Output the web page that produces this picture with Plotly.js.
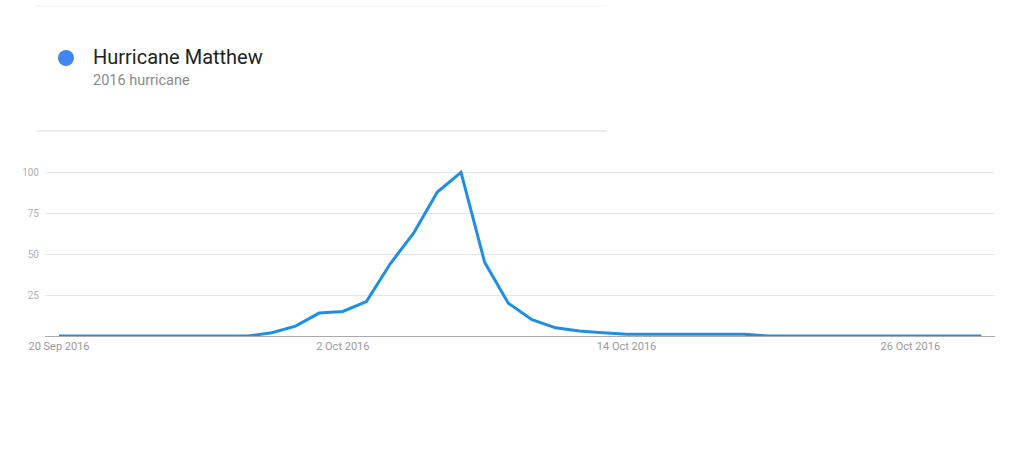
<!DOCTYPE html>
<html>
<head>
<meta charset="utf-8">
<script src="https://cdn.plot.ly/plotly-3.0.1.min.js"></script>
<style>html,body{margin:0;padding:0;background:#fff;}#chart{width:1024px;height:461px;}</style>
</head>
<body>
<div id="chart"></div>
<script>
// Daily dates 20 Sep 2016 .. 29 Oct 2016
const dates = [
 '2016-09-20','2016-09-21','2016-09-22','2016-09-23','2016-09-24','2016-09-25','2016-09-26','2016-09-27','2016-09-28','2016-09-29',
 '2016-09-30','2016-10-01','2016-10-02','2016-10-03','2016-10-04','2016-10-05','2016-10-06','2016-10-07','2016-10-08','2016-10-09',
 '2016-10-10','2016-10-11','2016-10-12','2016-10-13','2016-10-14','2016-10-15','2016-10-16','2016-10-17','2016-10-18','2016-10-19',
 '2016-10-20','2016-10-21','2016-10-22','2016-10-23','2016-10-24','2016-10-25','2016-10-26','2016-10-27','2016-10-28','2016-10-29'
];
const interest = [
 0,0,0,0,0,0,0,0,0,2,
 6,14,15,21,44,63,88,100,45,20,
 10,5,3,2,1,1,1,1,1,1,
 0,0,0,0,0,0,0,0,0,0
];
const seriesName = 'Hurricane Matthew';
const seriesDesc = '2016 hurricane';
const xTickVals = ['2016-09-20','2016-10-02','2016-10-14','2016-10-26'];
const xTickText = ['20 Sep 2016','2 Oct 2016','14 Oct 2016','26 Oct 2016'];
const yTickVals = [25,50,75,100];
const yTickText = ['25','50','75','100'];

const trace = {
  x: dates, y: interest, type: 'scatter', mode: 'lines', name: seriesName,
  line: {color: '#1f8fe5', width: 3}, hoverinfo: 'x+y'
};

const layout = {
  width: 1024, height: 461,
  margin: {l: 45, r: 29, t: 156, b: 125, pad: 0},
  paper_bgcolor: '#fff', plot_bgcolor: '#fff',
  showlegend: false,
  font: {family: 'Roboto, Arial, sans-serif'},
  xaxis: {
    type: 'date',
    range: ['2016-09-19 09:48', '2016-10-29 13:55'],
    tickvals: xTickVals, ticktext: xTickText,
    showgrid: false, zeroline: false,
    showline: true, linecolor: '#aaaaaa', linewidth: 1,
    ticks: '', tickfont: {size: 11, color: '#9a9a9a'},
    fixedrange: true
  },
  yaxis: {
    range: [0, 110],
    tickvals: yTickVals, ticktext: yTickText,
    showgrid: true, gridcolor: '#e6e6e6', gridwidth: 1,
    zeroline: false, showline: false, ticks: 'outside', ticklen: 3, tickcolor: 'rgba(0,0,0,0)',
    tickfont: {size: 10, color: '#b0b0b0'},
    fixedrange: true
  },
  shapes: [
    {type: 'line', xref: 'paper', yref: 'paper', x0: -0.0095, x1: 0.5916, y0: 1.8333, y1: 1.8333, line: {color: '#f2f2f2', width: 1}},
    {type: 'line', xref: 'paper', yref: 'paper', x0: -0.0095, x1: 0.5916, y0: 1.1389, y1: 1.1389, line: {color: '#dddddd', width: 1}},
    {type: 'circle', xref: 'paper', yref: 'paper', x0: 0.01368, x1: 0.03053, y0: 1.5, y1: 1.5889, fillcolor: '#4285f4', line: {color: '#4285f4', width: 0}}
  ],
  annotations: [
    {xref: 'paper', yref: 'paper', x: 0.0484, y: 1.55, xanchor: 'left', yanchor: 'middle', text: seriesName, showarrow: false, font: {size: 20, color: '#222222', family: 'Roboto, Arial, sans-serif'}},
    {xref: 'paper', yref: 'paper', x: 0.0484, y: 1.4167, xanchor: 'left', yanchor: 'middle', text: seriesDesc, showarrow: false, font: {size: 14.5, color: '#8a8a8a', family: 'Roboto, Arial, sans-serif'}}
  ]
};

Plotly.newPlot('chart', [trace], layout, {displayModeBar: false});
</script>
</body>
</html>
